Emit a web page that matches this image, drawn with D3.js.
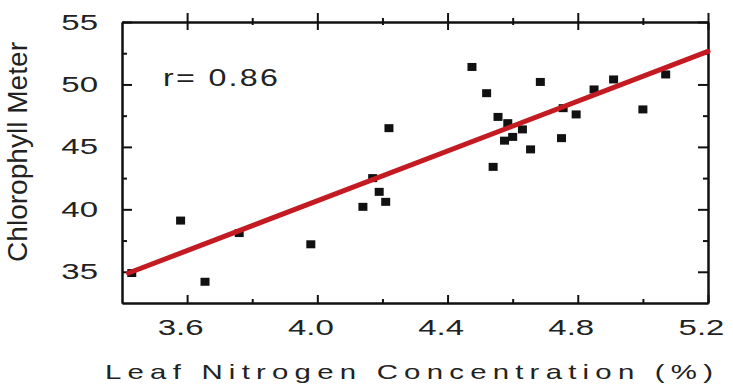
<!DOCTYPE html>
<html>
<head>
<meta charset="utf-8">
<script src="https://cdn.jsdelivr.net/npm/d3@7"></script>
<style>
  html, body { margin: 0; padding: 0; background: #fff; }
  svg { display: block; font-family: "Liberation Sans", Arial, sans-serif; }
</style>
</head>
<body>
<svg id="chart" width="733" height="385"></svg>
<script>
// leaf nitrogen (%) vs chlorophyll meter readings
const nitrogen = [3.43, 3.58, 3.655, 3.76, 3.98, 4.14, 4.17, 4.19, 4.21, 4.22,
  4.475, 4.52, 4.54, 4.555, 4.585, 4.575, 4.60, 4.63, 4.655, 4.685,
  4.75, 4.755, 4.795, 4.85, 4.91, 5.0, 5.07];
const chlorophyll = [34.9, 39.1, 34.2, 38.1, 37.2, 40.2, 42.5, 41.4, 40.6, 46.5,
  51.4, 49.3, 43.4, 47.4, 46.9, 45.5, 45.8, 46.4, 44.8, 50.2,
  45.7, 48.1, 47.6, 49.6, 50.4, 48.0, 50.8];

// fitted regression line end points
const fitX = [3.42, 5.2];
const fitY = [34.9, 52.65];

const xMajor = [3.6, 4.0, 4.4, 4.8, 5.2];
const xMinor = [3.8, 4.2, 4.6, 5.0];
const yMajor = [35, 40, 45, 50, 55];
const yMinor = [37.5, 42.5, 47.5, 52.5];

const svg = d3.select("#chart");
const plotL = 122, plotR = 708, plotT = 22, plotB = 303;
const stretch = 1.5; // the original glyphs are drawn wide

const x = d3.scaleLinear().domain([3.4, 5.2]).range([plotL, plotR]);
const y = d3.scaleLinear().domain([32.5, 55]).range([plotB, plotT]);

function styleAxis(g) {
  g.selectAll("path, line").attr("stroke", "#111").attr("stroke-width", 2);
}

// bottom axis with labels
svg.append("g")
  .attr("transform", `translate(0,${plotB})`)
  .call(d3.axisBottom(x).tickValues(xMajor).tickSize(-8).tickSizeOuter(0)
    .tickPadding(16).tickFormat(d3.format(".1f")))
  .call(styleAxis)
  .call(g => g.selectAll("text")
    .attr("font-size", 22).attr("fill", "#222")
    .attr("font-family", "Liberation Sans, Arial, sans-serif")
    .attr("x", -7 / stretch)
    .attr("transform", `scale(${stretch},1)`));
svg.append("g")
  .attr("transform", `translate(0,${plotB})`)
  .call(d3.axisBottom(x).tickValues(xMinor).tickSize(-4).tickSizeOuter(0).tickFormat(""))
  .call(styleAxis);

// top axis, ticks cross the frame
svg.append("g")
  .attr("transform", `translate(0,${plotT})`)
  .call(d3.axisTop(x).tickValues(xMajor).tickSize(9).tickSizeOuter(0).tickFormat(""))
  .call(styleAxis)
  .call(g => g.selectAll(".tick line").attr("y1", 8));
svg.append("g")
  .attr("transform", `translate(0,${plotT})`)
  .call(d3.axisTop(x).tickValues(xMinor).tickSize(4).tickSizeOuter(0).tickFormat(""))
  .call(styleAxis)
  .call(g => g.selectAll(".tick line").attr("y1", 3));

// left axis with labels
svg.append("g")
  .attr("transform", `translate(${plotL},0)`)
  .call(d3.axisLeft(y).tickValues(yMajor).tickSize(-10).tickSizeOuter(0).tickPadding(24))
  .call(styleAxis)
  .call(g => g.selectAll("text")
    .attr("font-size", 22).attr("fill", "#222")
    .attr("font-family", "Liberation Sans, Arial, sans-serif")
    .attr("x", -24 / stretch)
    .attr("transform", `scale(${stretch},1)`));
svg.append("g")
  .attr("transform", `translate(${plotL},0)`)
  .call(d3.axisLeft(y).tickValues(yMinor).tickSize(-5).tickSizeOuter(0).tickFormat(""))
  .call(styleAxis);

// right axis, ticks inward
svg.append("g")
  .attr("transform", `translate(${plotR},0)`)
  .call(d3.axisRight(y).tickValues(yMajor).tickSize(-10).tickSizeOuter(0).tickFormat(""))
  .call(styleAxis);
svg.append("g")
  .attr("transform", `translate(${plotR},0)`)
  .call(d3.axisRight(y).tickValues(yMinor).tickSize(-5).tickSizeOuter(0).tickFormat(""))
  .call(styleAxis);

// points
const pts = d3.zip(nitrogen, chlorophyll);
svg.append("g").selectAll("rect")
  .data(pts)
  .join("rect")
  .attr("x", d => x(d[0]) - 4.5)
  .attr("y", d => y(d[1]) - 4)
  .attr("width", 9)
  .attr("height", 8)
  .attr("fill", "#111");

// regression line on top
svg.append("path")
  .datum(d3.zip(fitX, fitY))
  .attr("d", d3.line().x(d => x(d[0])).y(d => y(d[1])))
  .attr("fill", "none")
  .attr("stroke", "#c41a22")
  .attr("stroke-width", 5)
  .attr("stroke-linecap", "round");

// r value
svg.append("g")
  .attr("transform", `translate(163,86) scale(1.4,1)`)
  .append("text")
  .attr("font-size", 23).attr("fill", "#222")
  .attr("textLength", 115 / 1.4).attr("lengthAdjust", "spacing")
  .text("r= 0.86");

// axis titles
svg.append("g")
  .attr("transform", `translate(105,379) scale(1.4,1)`)
  .append("text")
  .attr("font-size", 21).attr("fill", "#222")
  .attr("textLength", 608 / 1.4).attr("lengthAdjust", "spacing")
  .text("Leaf Nitrogen Concentration (%)");

svg.append("g")
  .attr("transform", `translate(27,152) rotate(-90) scale(1,1.4)`)
  .append("text")
  .attr("font-size", 20).attr("fill", "#222")
  .attr("text-anchor", "middle")
  .attr("textLength", 220).attr("lengthAdjust", "spacingAndGlyphs")
  .text("Chlorophyll Meter");
</script>
</body>
</html>
